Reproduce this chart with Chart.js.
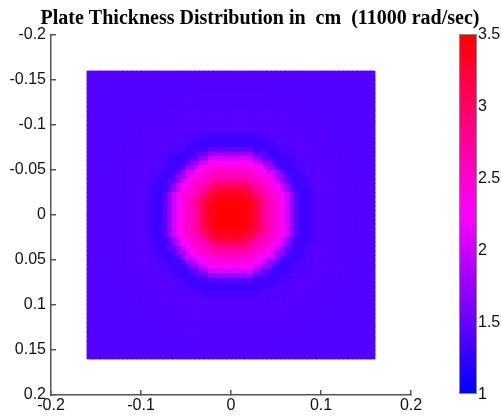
<!DOCTYPE html>
<html>
<head>
<meta charset="utf-8">
<script src="https://cdn.jsdelivr.net/npm/chart.js@4/dist/chart.umd.min.js"></script>
<style>
html, body { margin: 0; padding: 0; background: #ffffff; }
#wrap { position: relative; width: 501px; height: 416px; }
#main { position: absolute; left: 0; top: 0; }
</style>
</head>
<body>
<div id="wrap"><canvas id="main" width="501" height="416"></canvas></div>
<script>
// ---- chart data ----
const titleText = 'Plate Thickness Distribution in  cm  (11000 rad/sec)';
const xTickValues = [-0.2, -0.1, 0, 0.1, 0.2];
const yTickValues = [-0.2, -0.15, -0.1, -0.05, 0, 0.05, 0.1, 0.15, 0.2];
const colorbarTickValues = [1, 1.5, 2, 2.5, 3, 3.5];
// plate extends from -plateEdge to +plateEdge in x and y (m)
const plateEdge = 0.16;
// radial thickness profile of the plate (radius in m -> thickness in cm)
const radiusSamples = [0, 0.005, 0.01, 0.015, 0.02, 0.025, 0.03, 0.035, 0.04, 0.045,
  0.05, 0.055, 0.06, 0.065, 0.07, 0.075, 0.08, 0.085, 0.09, 0.095,
  0.1, 0.105, 0.11, 0.115, 0.12, 0.125, 0.13, 0.135, 0.14, 0.145,
  0.15, 0.155, 0.16];
const thicknessSamples = [3.50, 3.50, 3.50, 3.48, 3.42, 3.35, 3.22, 3.02, 2.78, 2.60,
  2.50, 2.40, 2.27, 2.05, 1.76, 1.48, 1.32, 1.30, 1.34, 1.39,
  1.42, 1.43, 1.43, 1.43, 1.43, 1.42, 1.42, 1.42, 1.41, 1.41,
  1.41, 1.40, 1.40];
const cellSize = 0.005;

// ---- colour map: blue (1) -> magenta (2.25) -> red (3.5) ----
const cMin = colorbarTickValues[0];
const cMax = colorbarTickValues[colorbarTickValues.length - 1];
function thicknessColor(v) {
  const t = Math.min(1, Math.max(0, (v - cMin) / (cMax - cMin)));
  let r, b;
  if (t <= 0.5) { r = Math.round(510 * t); b = 255; }
  else { r = 255; b = Math.round(510 * (1 - t)); }
  return 'rgb(' + r + ',0,' + b + ')';
}

function thicknessAt(r) {
  let best = 0, bestD = Infinity;
  for (let k = 0; k < radiusSamples.length; k++) {
    const d = Math.abs(radiusSamples[k] - r);
    if (d < bestD) { bestD = d; best = k; }
  }
  return thicknessSamples[best];
}

// build cell list of the plate
const cells = [];
const nCells = Math.round(2 * plateEdge / cellSize);
for (let i = 0; i < nCells; i++) {
  for (let j = 0; j < nCells; j++) {
    const x = -plateEdge + (i + 0.5) * cellSize;
    const y = -plateEdge + (j + 0.5) * cellSize;
    cells.push({ x: x, y: y, v: thicknessAt(Math.hypot(x, y)) });
  }
}

function cellRadius(chart) {
  const sx = chart.scales && chart.scales.x;
  if (!sx || !isFinite(sx.width) || sx.width <= 0) return 3;
  const px = Math.abs(sx.getPixelForValue(cellSize) - sx.getPixelForValue(0));
  if (!isFinite(px) || px > 50) return 3;
  return (px + 0.8) / Math.SQRT2;
}

function fmt(v) { return Math.abs(v) < 1e-9 ? '0' : String(+v.toFixed(3)); }

const axisColor = '#555555';
const tickFont = { family: '"Liberation Sans", Arial, sans-serif', size: 16 };

const colorbarPlugin = {
  id: 'colorbar',
  afterLayout(chart) {
    // centre the title over the figure as in the reference
    if (chart.titleBlock) { chart.titleBlock.left = 19; }
  },
  afterDraw(chart) {
    const s = chart.scales.cb;
    const ctx = chart.ctx;
    const top = s.getPixelForValue(cMax);
    const bottom = s.getPixelForValue(cMin) - 2;
    const left = s.left + 49;
    const w = 16;
    const g = ctx.createLinearGradient(0, bottom, 0, top);
    g.addColorStop(0, thicknessColor(cMin));
    g.addColorStop(0.5, thicknessColor((cMin + cMax) / 2));
    g.addColorStop(1, thicknessColor(cMax));
    ctx.save();
    ctx.fillStyle = g;
    ctx.fillRect(left, top, w, bottom - top);
    ctx.strokeStyle = '#8a8a8a';
    ctx.lineWidth = 1;
    ctx.strokeRect(left - 0.5, top - 0.5, w + 1, bottom - top + 1);
    ctx.restore();
  }
};

new Chart(document.getElementById('main'), {
  type: 'scatter',
  data: {
    datasets: [{
      data: cells,
      pointStyle: 'rect',
      pointRadius: ctx => cellRadius(ctx.chart),
      pointBorderWidth: 0,
      pointBackgroundColor: ctx => ctx.raw ? thicknessColor(ctx.raw.v) : 'rgba(0,0,0,0)',
      pointBorderColor: 'rgba(0,0,0,0)'
    }]
  },
  plugins: [colorbarPlugin],
  options: {
    responsive: false,
    devicePixelRatio: 1,
    animation: false,
    events: [],
    layout: { autoPadding: false, padding: { left: 0, right: 0, top: 0, bottom: 0 } },
    plugins: {
      legend: { display: false },
      tooltip: { enabled: false },
      title: {
        display: true,
        text: titleText,
        color: '#000000',
        font: { family: '"Liberation Serif", "Times New Roman", serif', size: 20, weight: 'bold' },
        padding: { top: 7, bottom: 4 }
      }
    },
    scales: {
      x: {
        type: 'linear',
        position: 'bottom',
        min: xTickValues[0],
        max: xTickValues[xTickValues.length - 1],
        afterBuildTicks: s => { s.ticks = xTickValues.map(v => ({ value: v })); },
        afterFit: s => { s.height = 21; s.paddingLeft = 0; s.paddingRight = 0; },
        ticks: { color: '#111111', font: tickFont, padding: 6, maxRotation: 0, autoSkip: false, callback: v => fmt(v) },
        grid: { display: true, drawOnChartArea: false, drawTicks: true, tickLength: -5, color: axisColor, lineWidth: 1.5 },
        border: { display: true, color: axisColor, width: 1.5 }
      },
      y: {
        type: 'linear',
        position: 'left',
        reverse: true,
        min: yTickValues[0],
        max: yTickValues[yTickValues.length - 1],
        afterBuildTicks: s => { s.ticks = yTickValues.map(v => ({ value: v })); },
        afterFit: s => { s.width = 51; s.paddingTop = 0; s.paddingBottom = 0; },
        ticks: { color: '#111111', font: tickFont, padding: 10, autoSkip: false, callback: v => fmt(v) },
        grid: { display: true, drawOnChartArea: false, drawTicks: true, tickLength: -5, color: axisColor, lineWidth: 1.5 },
        border: { display: true, color: axisColor, width: 1.5 }
      },
      cb: {
        type: 'linear',
        position: 'right',
        min: cMin,
        max: cMax,
        afterBuildTicks: s => { s.ticks = colorbarTickValues.map(v => ({ value: v })); },
        afterFit: s => { s.width = 90; s.paddingTop = 0; s.paddingBottom = 0; },
        ticks: { color: '#111111', font: tickFont, padding: 67, autoSkip: false, callback: v => fmt(v) },
        grid: { display: false, drawTicks: false },
        border: { display: false }
      }
    }
  }
});
</script>
</body>
</html>
